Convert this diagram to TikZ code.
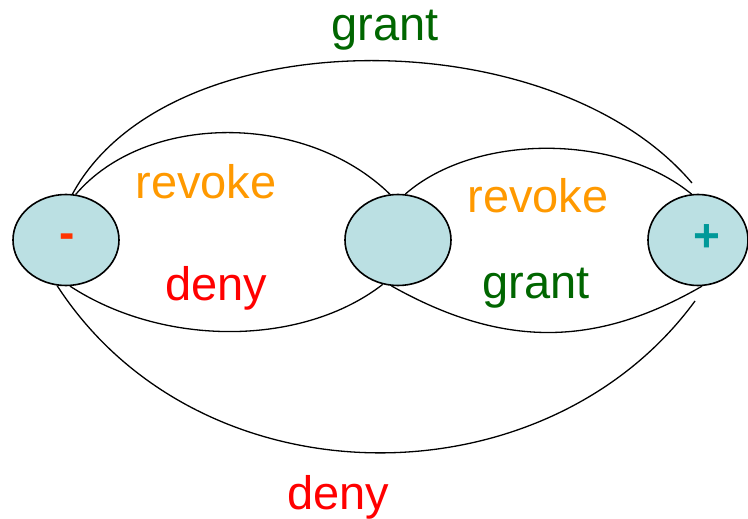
\documentclass[tikz,border=0pt]{standalone}
\usepackage{fontspec}
\setmainfont{Liberation Sans}
\usetikzlibrary{shapes.geometric}
\definecolor{cell}{RGB}{187,224,227}
\definecolor{dgreen}{RGB}{0,102,0}
\definecolor{orng}{RGB}{255,153,0}
\definecolor{dred}{RGB}{255,0,0}
\definecolor{mred}{RGB}{255,51,0}
\definecolor{teal2}{RGB}{0,153,153}
\tikzset{
  state/.style={ellipse, draw=black, line width=1.6pt, fill=cell, inner sep=0pt, minimum width=106pt, minimum height=91pt},
  arc/.style={draw=black, line width=1.3pt},
  lbl/.style={font=\fontsize{47}{52}\selectfont, inner sep=0pt},
  sym/.style={font=\fontsize{46}{50}\bfseries\selectfont, inner sep=0pt}
}
\begin{document}
\begin{tikzpicture}[x=1pt,y=-1pt]
\useasboundingbox (0,0) rectangle (748,519);
\node[state] (L) at (66,240) {};
\node[state] (M) at (398,240) {};
\node[state, minimum width=100pt] (R) at (698,240) {};
\node[sym, text=mred] (Lt) at (67,241) {-};
\node[sym, text=teal2] (Rt) at (707,238) {+};
\coordinate (gEnd) at (692,183);
\coordinate (dEnd) at (695,301);
% curves
\draw[arc] (L.82) .. controls (168,18) and (552,18) .. (gEnd);
\draw[arc] (L.78) .. controls (146,112) and (306,112) .. (M.100);
\draw[arc] (L.-85) .. controls (163,347) and (302,347) .. (M.-109);
\draw[arc] (M.81) .. controls (475,133) and (617,133) .. (R.98);
\draw[arc] (M.-98) .. controls (502,348) and (595,348) .. (R.-85);
\draw[arc] (L.-101) .. controls (200,506) and (545,506) .. (dEnd);
% labels
\node[lbl, text=dgreen] (t1) at (385,30) {grant};
\node[lbl, text=orng] (t2) at (206,182) {revoke};
\node[lbl, text=dred] (t3) at (216,288) {deny};
\node[lbl, text=orng] (t4) at (538,196) {revoke};
\node[lbl, text=dgreen] (t5) at (536,288) {grant};
\node[lbl, text=dred] (t6) at (338,497) {deny};
\end{tikzpicture}
\end{document}
